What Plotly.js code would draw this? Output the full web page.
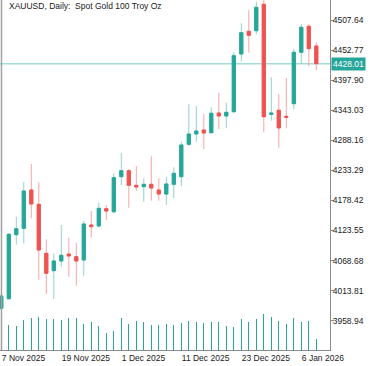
<!DOCTYPE html>
<html>
<head>
<meta charset="utf-8">
<script src="https://cdn.plot.ly/plotly-3.0.1.min.js"></script>
<style>
html,body{margin:0;padding:0;background:#fff;}
#chart{width:375px;height:366px;}
</style>
</head>
<body>
<div id="chart"></div>
<script>
// Trading days (XAUUSD Daily)
const dates = ['2025-11-07','2025-11-10','2025-11-11','2025-11-12','2025-11-13','2025-11-14',
  '2025-11-17','2025-11-18','2025-11-19','2025-11-20','2025-11-21',
  '2025-11-24','2025-11-25','2025-11-26','2025-11-27','2025-11-28',
  '2025-12-01','2025-12-02','2025-12-03','2025-12-04','2025-12-05',
  '2025-12-08','2025-12-09','2025-12-10','2025-12-11','2025-12-12',
  '2025-12-15','2025-12-16','2025-12-17','2025-12-18','2025-12-19',
  '2025-12-22','2025-12-23','2025-12-24','2025-12-26',
  '2025-12-29','2025-12-30','2025-12-31','2026-01-02',
  '2026-01-05','2026-01-06','2026-01-07','2026-01-08'];
const opens  = [3981.5,3999.0,4115.9,4127.5,4197.4,4171.3,4081.9,4050.2,4067.9,4080.6,4075.7,
  4069.7,4133.6,4131.7,4163.3,4157.8,4221.7,4232.6,4206.0,4203.5,4207.8,
  4197.4,4190.1,4207.8,4221.7,4280.8,4299.6,4306.9,4302.0,4337.9,4332.5,
  4340.3,4445.6,4487.0,4488.1,4536.3,4335.5,4342.9,4331.9,4354.9,4448.7,4496.1,4460.2];
const highs  = [4007.0,4119.0,4148.7,4212.0,4244.9,4211.5,4107.4,4081.9,4133.6,4110.4,4101.2,
  4140.9,4159.1,4174.2,4170.1,4227.9,4264.4,4235.7,4241.2,4218.8,4258.9,
  4218.8,4221.1,4238.8,4285.6,4353.8,4350.7,4335.6,4348.3,4375.0,4356.7,
  4448.7,4501.6,4525.9,4541.0,4549.0,4403.1,4372.6,4401.8,4454.7,4500.3,4500.3,4466.9];
const lows   = [3978.0,3998.5,4098.3,4100.0,4145.8,4033.2,4007.6,3998.5,4057.5,4039.2,4022.8,
  4041.0,4110.4,4129.4,4142.7,4154.9,4206.6,4165.1,4195.6,4176.1,4177.9,
  4177.9,4170.1,4182.3,4204.7,4278.3,4285.6,4272.2,4300.5,4308.7,4310.0,
  4338.5,4431.6,4448.0,4481.5,4302.7,4323.9,4274.6,4310.0,4344.7,4427.3,4423.7,4415.9];
const closes = [4004.0,4116.6,4126.8,4195.6,4171.9,4087.9,4045.4,4067.9,4078.3,4077.0,4067.9,
  4135.4,4130.5,4164.0,4159.1,4219.9,4232.6,4206.0,4202.9,4207.8,4201.1,
  4190.1,4208.4,4227.9,4279.5,4299.6,4305.1,4301.4,4337.4,4332.5,4339.2,
  4442.5,4484.5,4479.7,4530.8,4331.2,4337.9,4310.6,4330.1,4448.7,4494.3,4455.3,4428.01];
const volumes = [130000,125000,121500,148500,161500,165000,155000,153500,151500,161500,161500,
  131500,138500,121500,85000,95000,158500,131500,145000,140000,126500,
  125000,131500,123500,135000,145000,140000,136500,140000,140000,121500,
  115000,153500,140000,153500,178500,166500,145000,130000,158500,141500,145000,55000];
const priceTicks = [3958.94,4013.81,4068.68,4123.55,4178.42,4233.29,4288.16,4343.03,4397.90,4452.77,4507.64];
const priceTickText = ['3958.94','4013.81','4068.68','4123.55','4178.42','4233.29','4288.16','4343.03','4397.90','4452.77','4507.64'];
const dateTicks = ['2025-11-07','2025-11-19','2025-12-01','2025-12-11','2025-12-23','2026-01-06'];
const dateTickText = ['7 Nov 2025','19 Nov 2025','1 Dec 2025','11 Dec 2025','23 Dec 2025','6 Jan 2026'];
const lastPrice = 4428.01;
const titleText = 'XAUUSD, Daily:  Spot Gold 100 Troy Oz';

const UP = '#26a69a', DOWN = '#ef5350', UPW = '#8fd3cb', DOWNW = '#f7a6a4';
const bodyHigh = opens.map((o,i)=>Math.max(o,closes[i]));
const bodyLow = opens.map((o,i)=>Math.min(o,closes[i]));
const FONT = 'Liberation Sans, Arial, sans-serif';

const traces = [
  {type:'bar', x:dates, y:volumes, yaxis:'y2', width:0.16, marker:{color:UP, line:{width:0}}, hoverinfo:'skip'},
  {type:'candlestick', x:dates, open:opens, high:highs, low:lows, close:closes,
   increasing:{line:{color:UPW,width:1}, fillcolor:UPW},
   decreasing:{line:{color:DOWNW,width:1}, fillcolor:DOWNW}, whiskerwidth:0, hoverinfo:'skip'},
  {type:'candlestick', x:dates, open:opens, high:bodyHigh, low:bodyLow, close:closes,
   increasing:{line:{color:UP,width:1}, fillcolor:UP},
   decreasing:{line:{color:DOWN,width:1}, fillcolor:DOWN}, whiskerwidth:0, hoverinfo:'skip'}
];

const layout = {
  width:375, height:366,
  margin:{l:0, r:45, t:0, b:16},
  paper_bgcolor:'#ffffff', plot_bgcolor:'#ffffff',
  showlegend:false, boxgap:0.4, bargap:0,
  font:{family:FONT, size:8.5, color:'#1a1a1a'},
  xaxis:{type:'category', range:[-0.173, 43.827], rangeslider:{visible:false},
    tickmode:'array', tickvals:dateTicks, ticktext:dateTickText,
    ticklabelposition:'outside right',
    showgrid:false, zeroline:false, showline:true, linecolor:'#8a8a8a', linewidth:1,
    ticks:'', tickfont:{family:FONT, size:8.5, color:'#1a1a1a'}, fixedrange:true},
  yaxis:{side:'right', range:[3905.46, 4544.14], tickmode:'array', tickvals:priceTicks, ticktext:priceTickText,
    showgrid:false, zeroline:false, showline:true, linecolor:'#8a8a8a', linewidth:1,
    ticks:'outside', ticklen:3, tickcolor:'#8a8a8a', ticklabelstandoff:-3,
    tickfont:{family:FONT, size:8.5, color:'#1a1a1a'}, fixedrange:true},
  yaxis2:{overlaying:'y', range:[0,1750000], visible:false, fixedrange:true},
  shapes:[
    {type:'line', xref:'paper', yref:'y', x0:0, x1:1, y0:lastPrice, y1:lastPrice, line:{color:'#a3dcd6', width:1.5}, layer:'below'},
    {type:'line', xref:'paper', yref:'paper', x0:0.0045, x1:0.0045, y0:0, y1:1, line:{color:'#a0a0a0', width:1.5}}
  ],
  annotations:[
    {xref:'paper', yref:'y', x:1, y:lastPrice, xanchor:'left', yanchor:'middle', xshift:1,
     text:lastPrice.toFixed(2), showarrow:false, bgcolor:UP, borderpad:1,
     font:{family:FONT, size:8.5, color:'#ffffff'}},
    {xref:'paper', yref:'paper', x:0.02, y:1, xanchor:'left', yanchor:'top', yshift:1,
     text:titleText, showarrow:false, font:{family:FONT, size:8.5, color:'#1a1a1a'}}
  ]
};

Plotly.newPlot('chart', traces, layout, {staticPlot:true, displayModeBar:false});
</script>
</body>
</html>
